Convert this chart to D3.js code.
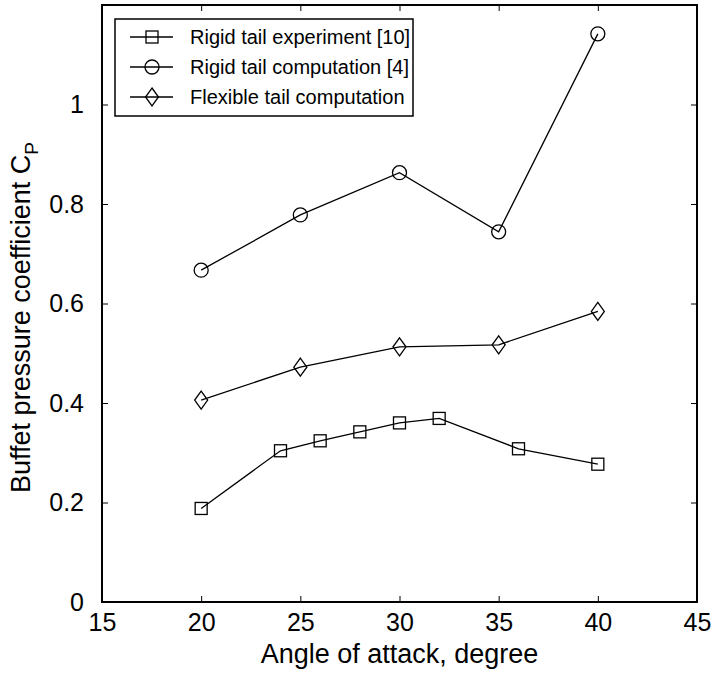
<!DOCTYPE html>
<html>
<head>
<meta charset="utf-8">
<script src="https://cdnjs.cloudflare.com/ajax/libs/d3/7.8.5/d3.min.js"></script>
<style>
  body { margin: 0; background: #fff; }
  text { font-family: "Liberation Sans", Arial, sans-serif; fill: #000; }
</style>
</head>
<body>
<div id="chart"></div>
<script>
// data
var expAngle = [20, 24, 26, 28, 30, 32, 36, 40];
var expCp    = [0.188, 0.304, 0.324, 0.342, 0.360, 0.369, 0.308, 0.277];
var rigidAngle = [20, 25, 30, 35, 40];
var rigidCp    = [0.667, 0.778, 0.863, 0.744, 1.142];
var flexAngle = [20, 25, 30, 35, 40];
var flexCp    = [0.406, 0.472, 0.513, 0.517, 0.584];
var xTicks = [15, 20, 25, 30, 35, 40, 45];
var yTicks = [0, 0.2, 0.4, 0.6, 0.8, 1];
var legendLabels = ["Rigid tail experiment [10]", "Rigid tail computation [4]", "Flexible tail computation"];

var width = 716, height = 673;
var margin = {top: 5, right: 19, bottom: 71, left: 102};

var svg = d3.select("#chart").append("svg")
    .attr("width", width)
    .attr("height", height);

var x = d3.scaleLinear().domain([15, 45]).range([margin.left, width - margin.right]);
var y = d3.scaleLinear().domain([0, 1.2]).range([height - margin.bottom, margin.top]);

// axes (ticks point inward, mirrored on top/right like matlab box)
svg.append("g")
    .attr("transform", "translate(0," + y(0) + ")")
    .call(d3.axisBottom(x).tickValues(xTicks).tickFormat(d3.format("d")).tickSizeInner(-6).tickSizeOuter(0).tickPadding(11))
    .call(g => g.select(".domain").remove())
    .selectAll("text").style("font-size", "25px");
svg.append("g")
    .attr("transform", "translate(" + x(15) + ",0)")
    .call(d3.axisLeft(y).tickValues(yTicks).tickFormat(d => d3.format("")(+d.toFixed(1))).tickSizeInner(-6).tickSizeOuter(0).tickPadding(18))
    .call(g => g.select(".domain").remove())
    .selectAll("text").style("font-size", "25px");
svg.append("g")
    .attr("transform", "translate(0," + y(1.2) + ")")
    .call(d3.axisTop(x).tickValues(xTicks).tickFormat("").tickSizeInner(-6).tickSizeOuter(0))
    .call(g => g.select(".domain").remove());
svg.append("g")
    .attr("transform", "translate(" + x(45) + ",0)")
    .call(d3.axisRight(y).tickValues(yTicks).tickFormat("").tickSizeInner(-6).tickSizeOuter(0))
    .call(g => g.select(".domain").remove());

svg.selectAll(".tick line").attr("stroke", "#000").attr("stroke-width", 1);

svg.append("rect")
    .attr("x", x(15)).attr("y", y(1.2))
    .attr("width", x(45) - x(15)).attr("height", y(0) - y(1.2))
    .attr("fill", "none").attr("stroke", "#000").attr("stroke-width", 2);

// axis labels
svg.append("text")
    .attr("x", (x(15) + x(45)) / 2).attr("y", 663)
    .attr("text-anchor", "middle").style("font-size", "27px")
    .text("Angle of attack, degree");
var yl = svg.append("text")
    .attr("transform", "translate(30," + ((y(0) + y(1.2)) / 2 + 14) + ") rotate(-90)")
    .attr("text-anchor", "middle").style("font-size", "27px");
yl.append("tspan").text("Buffet pressure coefficient C");
yl.append("tspan").attr("dy", 8).style("font-size", "19px").text("P");

// markers
function drawMarker(g, type, cx, cy) {
  if (type === "square") {
    g.append("rect").attr("x", cx - 6).attr("y", cy - 6).attr("width", 12).attr("height", 12);
  } else if (type === "circle") {
    g.append("circle").attr("cx", cx).attr("cy", cy).attr("r", 7);
  } else {
    g.append("path").attr("d", "M" + cx + "," + (cy - 9) + "L" + (cx + 6.5) + "," + cy + "L" + cx + "," + (cy + 9) + "L" + (cx - 6.5) + "," + cy + "Z");
  }
}

var series = [
  {xs: expAngle, ys: expCp, marker: "square"},
  {xs: rigidAngle, ys: rigidCp, marker: "circle"},
  {xs: flexAngle, ys: flexCp, marker: "diamond"}
];

var line = d3.line().x(d => x(d[0])).y(d => y(d[1]));

series.forEach(function(s) {
  var pts = s.xs.map((a, i) => [a, s.ys[i]]);
  svg.append("path").datum(pts)
      .attr("d", line)
      .attr("fill", "none").attr("stroke", "#000").attr("stroke-width", 1.3);
  var mg = svg.append("g").attr("fill", "none").attr("stroke", "#000").attr("stroke-width", 1.3);
  pts.forEach(p => drawMarker(mg, s.marker, x(p[0]), y(p[1])));
});

// legend
var lg = svg.append("g");
lg.append("rect")
    .attr("x", 115).attr("y", 19).attr("width", 298).attr("height", 97)
    .attr("fill", "#fff").attr("stroke", "#000").attr("stroke-width", 1.5);
series.forEach(function(s, i) {
  var ly = 37 + i * 30;
  lg.append("line").attr("x1", 130).attr("x2", 173).attr("y1", ly).attr("y2", ly)
      .attr("stroke", "#000").attr("stroke-width", 1.3);
  var mg = lg.append("g").attr("fill", "none").attr("stroke", "#000").attr("stroke-width", 1.3);
  drawMarker(mg, s.marker, 152, ly);
  lg.append("text").attr("x", 190).attr("y", ly + 7)
      .style("font-size", "20px").text(legendLabels[i]);
});
</script>
</body>
</html>
